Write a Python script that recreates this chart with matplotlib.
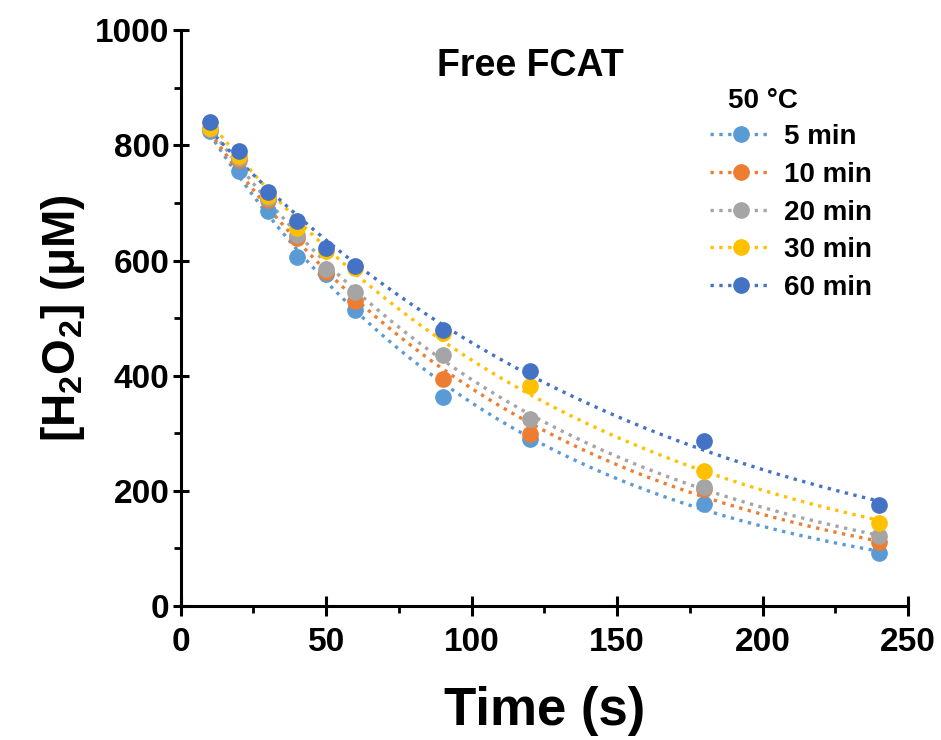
import numpy as np
import matplotlib
matplotlib.use('Agg')
import matplotlib.pyplot as plt
from matplotlib.ticker import MultipleLocator

plt.rcParams['font.family'] = ['Liberation Sans', 'DejaVu Sans']
plt.rcParams['font.weight'] = 'bold'
plt.rcParams['mathtext.fontset'] = 'custom'
plt.rcParams['mathtext.rm'] = 'Liberation Sans:bold'
plt.rcParams['mathtext.it'] = 'Liberation Sans:bold'
plt.rcParams['mathtext.bf'] = 'Liberation Sans:bold'

# sampling times (s)
time_s = [10, 20, 30, 40, 50, 60, 90, 120, 180, 240]

# [H2O2] (uM) for each pre-incubation time at 50 C
h2o2_5min = [826, 755, 686, 607, 577, 514, 363, 291, 178, 93]
h2o2_10min = [828, 774, 705, 640, 580, 530, 394, 298, 203, 112]
h2o2_20min = [829, 778, 708, 645, 585, 545, 436, 325, 207, 122]
h2o2_30min = [831, 782, 712, 656, 616, 588, 475, 382, 234, 145]
h2o2_60min = [840, 790, 719, 668, 622, 590, 479, 408, 286, 176]

labels = ['5 min', '10 min', '20 min', '30 min', '60 min']
colors = ['#5B9BD5', '#ED7D31', '#A5A5A5', '#FFC000', '#4472C4']
series = [h2o2_5min, h2o2_10min, h2o2_20min, h2o2_30min, h2o2_60min]

fig = plt.figure(figsize=(9.41, 7.40), dpi=100)
ax = fig.add_axes([0.192, 0.181, 0.773, 0.778])

t = np.array(time_s, dtype=float)
t_fit = np.linspace(t.min(), t.max(), 200)
for y, lab, c in zip(series, labels, colors):
    y = np.array(y, dtype=float)
    # exponential decay fit (trend line)
    k, b = np.polyfit(t, np.log(y), 1)
    ax.plot(t_fit, np.exp(b + k * t_fit), ':', color=c, lw=2.4, zorder=2)
    ax.plot(t, y, 'o', color=c, ms=11, zorder=3)
    # legend proxy
    ax.plot([], [], ':', color=c, lw=2.4, marker='o', ms=11, label=lab)

ax.set_xlim(0, 250)
ax.set_ylim(0, 1000)
ax.xaxis.set_major_locator(MultipleLocator(50))
ax.xaxis.set_minor_locator(MultipleLocator(25))
ax.yaxis.set_major_locator(MultipleLocator(200))
ax.yaxis.set_minor_locator(MultipleLocator(100))
ax.tick_params(axis='y', which='major', direction='inout', length=12, width=2.2, labelsize=24, pad=2)
ax.tick_params(axis='x', which='major', direction='inout', length=14, width=2.2, labelsize=24, pad=8)
ax.tick_params(which='minor', direction='out', length=5, width=2.0)
for lbl in ax.get_xticklabels() + ax.get_yticklabels():
    lbl.set_fontweight('bold')

ax.spines['top'].set_visible(False)
ax.spines['right'].set_visible(False)
ax.spines['left'].set_linewidth(2.2)
ax.spines['bottom'].set_linewidth(2.2)

ax.set_xlabel('Time (s)', fontsize=38, fontweight='bold', labelpad=20)
ax.set_ylabel(r'[H$_2$O$_2$] ($\mu$M)', fontsize=33, fontweight='bold', labelpad=6)

ax.text(0.481, 0.938, 'Free FCAT', transform=ax.transAxes, ha='center', va='center',
        fontsize=27, fontweight='bold')

ax.text(0.752, 0.878, '50 °C', transform=ax.transAxes, ha='left', va='center',
        fontsize=20, fontweight='bold')

leg = ax.legend(loc='upper left', bbox_to_anchor=(0.728, 0.837), frameon=False,
                fontsize=20, handlelength=2.2, handletextpad=0.45,
                labelspacing=0.42, borderaxespad=0.0, borderpad=0.0)
for txt in leg.get_texts():
    txt.set_fontweight('bold')

fig.savefig('out.png', dpi=100)
